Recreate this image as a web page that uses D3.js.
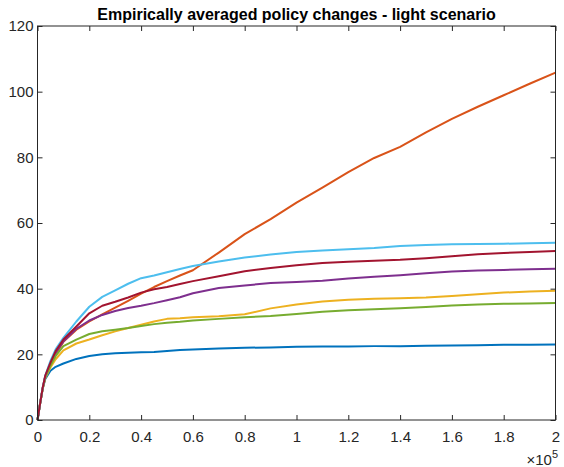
<html>
<script src="https://d3js.org/d3.v7.min.js"></script>
<body style="margin:0;background:#fff">
<svg id="myPlot" width="564" height="467"></svg>
<script>
// Data (x in steps, y = averaged policy changes)
const xs = [0, 1000, 2000, 3000, 5000, 7000, 10000, 15000, 20000, 25000, 30000, 35000, 40000, 45000, 50000, 55000,
            60000, 70000, 80000, 90000, 100000, 110000, 120000, 130000, 140000, 150000, 160000, 170000, 180000, 190000, 200000];

const sBlue   = [0, 5, 9.5, 12.5, 15, 16.2, 17.2, 18.6, 19.5, 20.0, 20.3, 20.5, 20.6, 20.7, 21.0, 21.3,
                 21.5, 21.8, 22.0, 22.1, 22.3, 22.4, 22.4, 22.5, 22.5, 22.6, 22.7, 22.8, 22.9, 22.9, 23.0];
const sOrange = [0, 5, 9.7, 13.2, 17, 20, 23.8, 27.5, 30, 32.2, 34.2, 36.3, 38.5, 40.5, 42.3, 44.0,
                 45.6, 51.0, 56.6, 61.2, 66.2, 70.8, 75.5, 79.8, 83.2, 87.6, 91.7, 95.4, 98.9, 102.4, 105.8];
const sYellow = [0, 5, 9.5, 12.8, 16, 18.5, 21.2, 23.3, 24.5, 25.8, 27.0, 28.0, 29.0, 30.0, 30.8, 31.0,
                 31.3, 31.6, 32.2, 34.0, 35.2, 36.1, 36.6, 36.9, 37.1, 37.3, 37.8, 38.3, 38.8, 39.1, 39.4];
const sPurple = [0, 5, 9.7, 13.3, 17, 20.5, 24, 27.8, 30.3, 32, 33.2, 34.1, 34.8, 35.6, 36.5, 37.4,
                 38.6, 40.2, 41.0, 41.7, 42.0, 42.4, 43.1, 43.6, 44.1, 44.7, 45.2, 45.5, 45.7, 45.9, 46.1];
const sGreen  = [0, 5, 9.5, 13, 16.5, 19.5, 22.5, 24.5, 26.2, 27.0, 27.5, 28.0, 28.6, 29.2, 29.6, 29.9,
                 30.3, 30.8, 31.3, 31.7, 32.3, 33.0, 33.4, 33.7, 34.0, 34.4, 34.9, 35.2, 35.4, 35.5, 35.6];
const sLight  = [0, 5, 9.8, 13.5, 18, 21.5, 25, 30, 34.5, 37.5, 39.5, 41.5, 43.2, 44.0, 45.0, 46.0,
                 46.9, 48.3, 49.5, 50.4, 51.2, 51.6, 52.0, 52.4, 53.0, 53.3, 53.5, 53.6, 53.7, 53.8, 54.0];
const sRed    = [0, 5, 9.8, 13.5, 17.5, 21, 24.5, 28.5, 32.5, 34.8, 36, 37.3, 38.8, 39.8, 40.5, 41.4,
                 42.3, 43.8, 45.3, 46.3, 47.1, 47.8, 48.2, 48.5, 48.8, 49.3, 49.9, 50.5, 50.9, 51.2, 51.5];

const series = [sBlue, sOrange, sYellow, sPurple, sGreen, sLight, sRed];
const colors = ["#0072BD", "#D95319", "#EDB120", "#7E2F8E", "#77AC30", "#4DBEEE", "#A2142F"];

const xTicks = [0, 20000, 40000, 60000, 80000, 100000, 120000, 140000, 160000, 180000, 200000];
const yTicks = [0, 20, 40, 60, 80, 100, 120];

// Layout
const mLeft = 37.5, mRight = 555.5, mTop = 26, mBottom = 420;
const axisColor = "#262626";
const font = "Liberation Sans, Arial, Helvetica, sans-serif";

const svg = d3.select("#myPlot");

const x = d3.scaleLinear().domain([0, 200000]).range([mLeft, mRight]);
const y = d3.scaleLinear().domain([0, 120]).range([mBottom, mTop]);

// Lines
const line = d3.line().x((d, i) => x(xs[i])).y(d => y(d));
svg.append("g")
  .selectAll("path")
  .data(series).enter()
  .append("path")
  .attr("d", d => line(d))
  .attr("fill", "none")
  .attr("stroke", (d, i) => colors[i])
  .attr("stroke-width", 2)
  .attr("stroke-linejoin", "round");

// Box
svg.append("rect")
  .attr("x", mLeft).attr("y", mTop)
  .attr("width", mRight - mLeft).attr("height", mBottom - mTop)
  .attr("fill", "none").attr("stroke", axisColor).attr("stroke-width", 1);

// Axes with inward ticks
const fmtX = d => d3.format("~g")(d / 1e5);
const bottomAxis = svg.append("g")
  .attr("transform", "translate(0," + mBottom + ")")
  .call(d3.axisBottom(x).tickValues(xTicks).tickSize(-5).tickPadding(11).tickFormat(fmtX));
const topAxis = svg.append("g")
  .attr("transform", "translate(0," + mTop + ")")
  .call(d3.axisTop(x).tickValues(xTicks).tickSize(-5).tickFormat(""));
const leftAxis = svg.append("g")
  .attr("transform", "translate(" + mLeft + ",0)")
  .call(d3.axisLeft(y).tickValues(yTicks).tickSize(-5).tickPadding(4));
const rightAxis = svg.append("g")
  .attr("transform", "translate(" + mRight + ",0)")
  .call(d3.axisRight(y).tickValues(yTicks).tickSize(-5).tickFormat(""));

[bottomAxis, topAxis, leftAxis, rightAxis].forEach(g => {
  g.select(".domain").remove();
  g.selectAll("line").attr("stroke", axisColor);
  g.selectAll("text").attr("fill", axisColor).style("font-family", font).style("font-size", "15px");
});

// Exponent label
const expo = svg.append("text")
  .attr("x", 558).attr("y", 465)
  .attr("text-anchor", "end")
  .attr("fill", axisColor)
  .style("font-family", font).style("font-size", "15px");
expo.append("tspan").text("\u00d710");
expo.append("tspan").attr("dy", -7).style("font-size", "11px").text("5");

// Title
svg.append("text")
  .attr("x", (mLeft + mRight) / 2).attr("y", 19.5)
  .attr("text-anchor", "middle")
  .attr("fill", "#000")
  .style("font-family", font).style("font-size", "16px").style("font-weight", "bold")
  .text("Empirically averaged policy changes - light scenario");
</script>
</body>
</html>
